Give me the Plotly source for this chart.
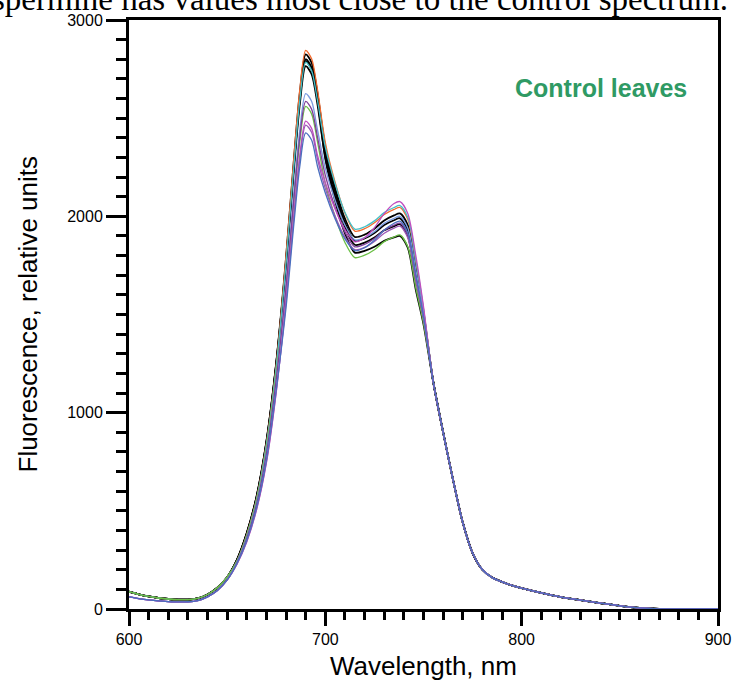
import plotly.graph_objects as go

# Shared wavelength grids (nm)
left_wl = [600, 605, 610, 615, 620, 625, 630, 635, 640, 645, 650]
mid_wl = [655, 660, 665, 670, 675, 680, 684, 687, 690, 693, 696, 700, 705, 710, 715,
          720, 725, 730, 735, 738, 742, 746, 750]
right_wl = [755, 760, 765, 770, 775, 780, 785, 790, 795, 800, 810, 820, 830, 840, 850, 860, 870, 880, 890, 900]

# Shared tails (relative units)
upper_left_tail = [88, 75, 64, 56, 51, 48, 48, 54, 74, 108, 162]
lower_left_tail = [62, 53, 46, 41, 38, 36, 37, 43, 62, 94, 148]
right_tail = [1155, 900, 660, 440, 285, 200, 160, 138, 120, 106, 82, 61, 45, 30, 16, 6, 1, 0, 0, 0]

# Per-spectrum values, 655-750 nm
blackA_mid = [252, 388, 575, 855, 1255, 1791, 2288, 2627, 2825, 2783, 2627, 2351, 2146, 1988, 1895, 1907, 1937, 1979, 2005, 2015, 1955, 1745, 1510]
blackB_mid = [250, 385, 570, 850, 1250, 1775, 2268, 2604, 2800, 2758, 2604, 2328, 2125, 1968, 1875, 1887, 1915, 1956, 1980, 1990, 1930, 1720, 1498]
blackC_mid = [248, 382, 566, 842, 1240, 1753, 2240, 2571, 2765, 2724, 2571, 2301, 2101, 1946, 1855, 1866, 1892, 1929, 1950, 1960, 1900, 1690, 1483]
blackD_mid = [250, 386, 572, 850, 1250, 1769, 2260, 2595, 2790, 2748, 2595, 2293, 2078, 1913, 1815, 1824, 1845, 1875, 1893, 1900, 1840, 1630, 1450]
orange_mid = [246, 380, 565, 845, 1245, 1804, 2304, 2646, 2845, 2802, 2646, 2376, 2173, 2017, 1925, 1937, 1967, 2009, 2035, 2045, 1985, 1775, 1525]
cyan_mid = [244, 376, 560, 836, 1232, 1766, 2256, 2590, 2785, 2743, 2590, 2352, 2165, 2020, 1935, 1947, 1977, 2019, 2045, 2055, 1995, 1785, 1530]
green_mid = [244, 372, 552, 815, 1200, 1623, 2074, 2381, 2560, 2522, 2381, 2167, 1998, 1867, 1790, 1802, 1830, 1871, 1895, 1905, 1845, 1640, 1455]
lightblue_mid = [238, 362, 538, 798, 1178, 1664, 2126, 2441, 2625, 2586, 2441, 2245, 2081, 1955, 1880, 1892, 1922, 1964, 1990, 2000, 1940, 1730, 1503]
purple_mid = [236, 360, 534, 792, 1170, 1639, 2094, 2404, 2585, 2546, 2404, 2208, 2045, 1919, 1845, 1857, 1887, 1929, 1955, 1965, 1905, 1695, 1485]
magenta_mid = [228, 342, 506, 745, 1105, 1575, 2013, 2311, 2485, 2448, 2311, 2171, 2036, 1932, 1870, 1891, 1942, 2014, 2065, 2075, 2015, 1805, 1540]
violet_mid = [230, 345, 510, 750, 1110, 1563, 1997, 2292, 2465, 2428, 2292, 2141, 2001, 1894, 1830, 1842, 1872, 1914, 1940, 1950, 1890, 1680, 1478]
blue_mid = [232, 350, 518, 760, 1120, 1537, 1964, 2255, 2425, 2389, 2255, 2119, 1987, 1885, 1825, 1840, 1878, 1930, 1965, 1975, 1915, 1705, 1490]

# (name, left tail, middle values, colour, width) in drawing order
series = [
    ("black A", upper_left_tail, blackA_mid, "#000000", 1.8),
    ("black B", upper_left_tail, blackB_mid, "#000000", 1.8),
    ("black C", upper_left_tail, blackC_mid, "#000000", 1.8),
    ("black D", upper_left_tail, blackD_mid, "#000000", 1.8),
    ("orange", upper_left_tail, orange_mid, "#f26a2e", 1.3),
    ("cyan", upper_left_tail, cyan_mid, "#45c0c8", 1.3),
    ("green", upper_left_tail, green_mid, "#6abf45", 1.3),
    ("light blue", lower_left_tail, lightblue_mid, "#7b9be0", 1.3),
    ("purple", lower_left_tail, purple_mid, "#7e3f98", 1.3),
    ("magenta", lower_left_tail, magenta_mid, "#c04fc0", 1.3),
    ("violet", lower_left_tail, violet_mid, "#9b59b6", 1.3),
    ("blue", lower_left_tail, blue_mid, "#4a6fbf", 1.3),
]

wl = left_wl + mid_wl + right_wl

fig = go.Figure()
for name, left, mid, color, w in series:
    fig.add_trace(go.Scatter(
        x=wl, y=left + mid + right_tail, mode="lines", name=name,
        line=dict(color=color, width=w, shape="spline", smoothing=0.8),
        showlegend=False, hoverinfo="skip"))

axis_common = dict(
    showline=True, mirror=True, linecolor="black", linewidth=3,
    ticks="outside", tickcolor="black", tickwidth=2.5,
    showgrid=False, zeroline=False, automargin=False,
    tickfont=dict(family="Liberation Sans", size=16, color="black"),
)

L, R, T, B = 129, 16, 20, 79
PW, PH = 734 - L - R, 688 - T - B

fig.update_layout(
    width=734, height=688,
    margin=dict(l=L, r=R, t=T, b=B, autoexpand=False),
    paper_bgcolor="white", plot_bgcolor="white",
    font=dict(family="Liberation Sans", color="black"),
    xaxis=dict(range=[600, 900], dtick=100, tick0=600, ticklen=14,
               minor=dict(dtick=10, ticks="outside", ticklen=8, tickwidth=2.5, tickcolor="black", showgrid=False),
               **axis_common),
    yaxis=dict(range=[0, 3000], dtick=1000, tick0=0, ticklen=20,
               minor=dict(dtick=100, ticks="outside", ticklen=10, tickwidth=2.5, tickcolor="black", showgrid=False),
               **axis_common),
    annotations=[
        dict(text="Wavelength, nm", xref="paper", yref="paper",
             x=0.5, y=-(666 - (T + PH)) / PH, xanchor="center", yanchor="middle",
             showarrow=False, font=dict(family="Liberation Sans", size=26, color="black")),
        dict(text="Fluorescence, relative units", xref="paper", yref="paper", textangle=-90,
             x=(27 - L) / PW, y=0.5, xanchor="center", yanchor="middle",
             showarrow=False, font=dict(family="Liberation Sans", size=26, color="black")),
        dict(text="<b>Control leaves</b>", xref="paper", yref="paper",
             x=(601 - L) / PW, y=(T + PH - 88) / PH, xanchor="center", yanchor="middle",
             showarrow=False, font=dict(family="Liberation Sans", size=25, color="#2f9a64")),
        dict(text="spermine has values most close to the control spectrum.", xref="paper", yref="paper",
             x=(360 - L) / PW, y=1 + (T + 1) / PH, xanchor="center", yanchor="middle",
             showarrow=False, font=dict(family="Liberation Serif", size=33, color="black")),
    ],
)

fig.write_html("out.html", config={"displayModeBar": False},
               post_script="document.body.style.margin='0';")
